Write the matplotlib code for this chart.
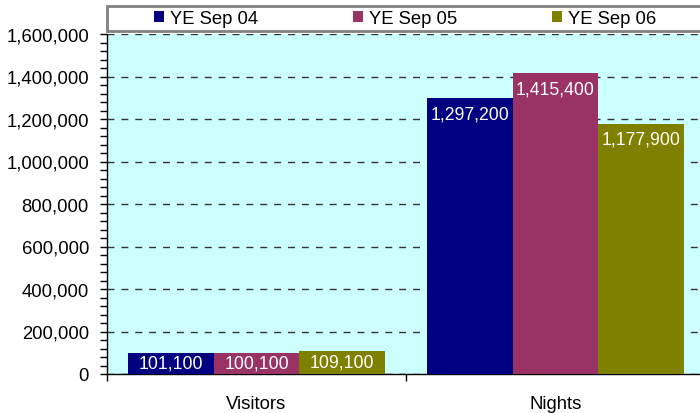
import matplotlib
matplotlib.use("Agg")
import matplotlib.pyplot as plt
from matplotlib.patches import Rectangle
from matplotlib.ticker import FuncFormatter, MultipleLocator

categories = ["Visitors", "Nights"]
series_names = ["YE Sep 04", "YE Sep 05", "YE Sep 06"]
ye_sep_04 = [101100, 1297200]
ye_sep_05 = [100100, 1415400]
ye_sep_06 = [109100, 1177900]
series_values = [ye_sep_04, ye_sep_05, ye_sep_06]
colors = ["#000080", "#993366", "#808000"]

plt.rcParams["font.family"] = ["Liberation Sans", "DejaVu Sans"]

W, H = 700, 414
fig = plt.figure(figsize=(W / 100, H / 100), dpi=100)
left, right, top, bottom = 107, 705, 35, 375
ax = fig.add_axes([left / W, 1 - bottom / H, (right - left) / W, (bottom - top) / H])
ax.set_facecolor("#CCFFFF")

ax.set_xlim(-0.5, 1.5)
ax.set_ylim(0, 1600000)

bw = 0.2855
xs = list(range(len(categories)))
containers = []
for i, (name, vals, c) in enumerate(zip(series_names, series_values, colors)):
    pos = [x + (i - 1) * bw for x in xs]
    bc = ax.bar(pos, vals, width=bw, color=c, label=name, zorder=3)
    containers.append(bc)

# data labels inside end
px_per_unit = (bottom - top) / 1600000
for bc, vals in zip(containers, series_values):
    for rect, v in zip(bc, vals):
        hpx = v * px_per_unit
        off_px = min(15.5, hpx / 2)
        ax.annotate(f"{v:,}", (rect.get_x() + rect.get_width() / 2, v),
                    xytext=(0, -off_px * 72 / 100), textcoords="offset points",
                    ha="center", va="center", color="white", fontsize=12.7, zorder=4)

# gridlines
ax.yaxis.set_major_locator(MultipleLocator(200000))
ax.yaxis.set_minor_locator(MultipleLocator(40000))
ax.yaxis.set_major_formatter(FuncFormatter(lambda v, p: f"{int(v):,}"))
ax.grid(axis="y", which="major", color="#333333", linestyle=(0, (5, 5)), linewidth=1, zorder=1)
ax.set_axisbelow(True)

ax.tick_params(axis="y", which="major", direction="out", length=5, width=1, labelsize=13.3, pad=8)
ax.tick_params(axis="y", which="minor", direction="out", length=5, width=1)

# x: ticks at boundaries, labels at centers
ax.set_xticks([-0.5, 0.5, 1.5])
ax.set_xticklabels([])
ax.set_xticks(xs, minor=True)
ax.set_xticklabels(categories, minor=True)
ax.tick_params(axis="x", which="major", direction="out", length=5, width=1)
ax.tick_params(axis="x", which="minor", length=0, labelsize=13.3, pad=15)

for s in ["top", "right"]:
    ax.spines[s].set_visible(False)
for s in ["left", "bottom"]:
    ax.spines[s].set_color("black")
    ax.spines[s].set_linewidth(1)

# legend box
box = Rectangle((left / W, 1 - 32 / H), (710 - left) / W, 25 / H, transform=fig.transFigure,
                facecolor="white", edgecolor="#808080", linewidth=2, zorder=0)
fig.patches.append(box)
fs = 13.3
fpx = fs * 100 / 72
leg = fig.legend(handles=containers, labels=series_names, loc="center left",
                 bbox_to_anchor=(154 / W, 1 - 19.5 / H), ncol=3, frameon=False,
                 fontsize=fs, handlelength=10 / fpx, handleheight=10 / fpx,
                 handletextpad=6 / fpx, columnspacing=(200 - 10 - 6 - 89) / fpx,
                 borderpad=0, borderaxespad=0)

fig.savefig("out.png", dpi=100)
